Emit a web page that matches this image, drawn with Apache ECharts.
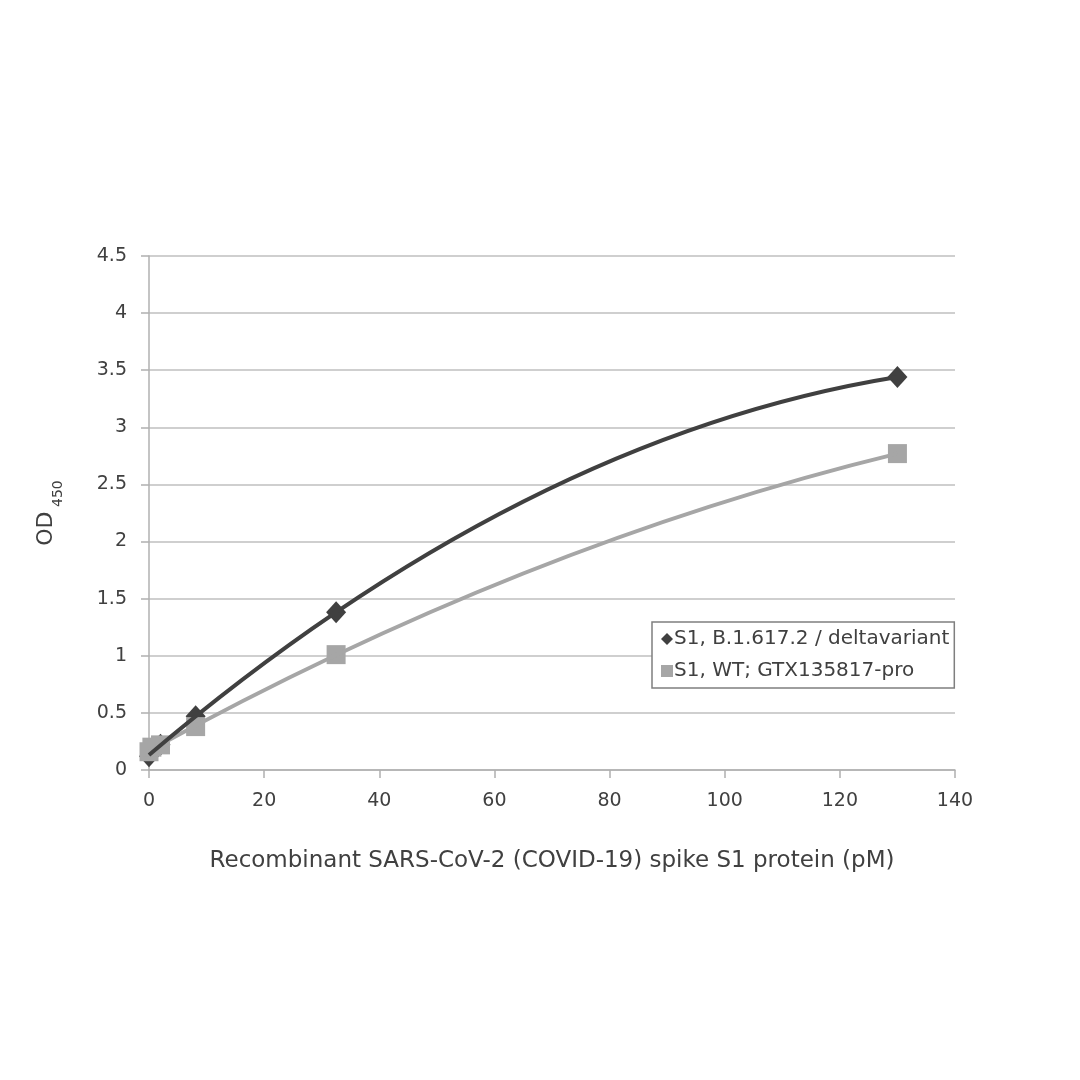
<!DOCTYPE html>
<html>
<head>
<meta charset="utf-8">
<script src="https://cdn.jsdelivr.net/npm/echarts@6/dist/echarts.min.js"></script>
<style>
  html, body { margin: 0; padding: 0; background: #fff; }
  #chart { width: 1080px; height: 1080px; }
</style>
</head>
<body>
<div id="chart"></div>
<script>
// 浓度 (pM)
const concentrations = [0, 0.5, 2, 8.1, 32.5, 130]
// OD450 读数
const deltaValues = [0.12, 0.16, 0.22, 0.47, 1.38, 3.44]
const wtValues = [0.16, 0.2, 0.22, 0.38, 1.01, 2.77]
const seriesNames = ['S1, B.1.617.2 / deltavariant', 'S1, WT; GTX135817-pro']
const xTicks = [0, 20, 40, 60, 80, 100, 120, 140]

const font = '"DejaVu Sans", "Open Sans", sans-serif'
const textColor = '#404040'
const darkColor = '#404040'
const grayColor = '#a6a6a6'

const toPoints = (ys) => concentrations.map((x, i) => [x, ys[i]])

// 二次多项式趋势线 (最小二乘)
const fitQuadratic = (xs, ys) => {
  const s = [0, 0, 0, 0, 0]
  const t = [0, 0, 0]
  xs.forEach((x, i) => {
    for (let k = 0; k < 5; k++) s[k] += Math.pow(x, k)
    for (let k = 0; k < 3; k++) t[k] += ys[i] * Math.pow(x, k)
  })
  const m = [
    [s[0], s[1], s[2], t[0]],
    [s[1], s[2], s[3], t[1]],
    [s[2], s[3], s[4], t[2]]
  ]
  for (let i = 0; i < 3; i++) {
    for (let j = i + 1; j < 3; j++) {
      const f = m[j][i] / m[i][i]
      for (let k = i; k < 4; k++) m[j][k] -= f * m[i][k]
    }
  }
  const c = [0, 0, 0]
  for (let i = 2; i >= 0; i--) {
    let v = m[i][3]
    for (let k = i + 1; k < 3; k++) v -= m[i][k] * c[k]
    c[i] = v / m[i][i]
  }
  return c
}

// 用二次贝塞尔精确绘制抛物线
const trendSeries = (ys, color, z) => {
  const c = fitQuadratic(concentrations, ys)
  const f = (x) => c[0] + c[1] * x + c[2] * x * x
  const df = (x) => c[1] + 2 * c[2] * x
  const x0 = Math.min(...concentrations)
  const x1 = Math.max(...concentrations)
  return {
    type: 'custom',
    silent: true,
    z,
    data: [[x0, f(x0)]],
    renderItem: (params, api) => {
      const p0 = api.coord([x0, f(x0)])
      const p2 = api.coord([x1, f(x1)])
      const cp = api.coord([(x0 + x1) / 2, f(x0) + df(x0) * (x1 - x0) / 2])
      return {
        type: 'bezierCurve',
        shape: { x1: p0[0], y1: p0[1], x2: p2[0], y2: p2[1], cpx1: cp[0], cpy1: cp[1] },
        style: { stroke: color, lineWidth: 4, fill: null }
      }
    }
  }
}

const chart = echarts.init(document.getElementById('chart'))

const option = {
  backgroundColor: '#fff',
  animation: false,
  textStyle: { fontFamily: font },
  grid: { left: 149, right: 125, top: 256, bottom: 310 },
  legend: {
    orient: 'vertical',
    left: 652,
    top: 622,
    padding: [7, 5, 7, 9],
    itemGap: 12,
    itemWidth: 12,
    itemHeight: 12,
    borderColor: '#7f7f7f',
    borderWidth: 1.5,
    backgroundColor: '#fff',
    textStyle: { color: textColor, fontSize: 20, fontFamily: font, padding: [0, 0, 0, -4] },
    data: [
      { name: seriesNames[0], icon: 'diamond' },
      { name: seriesNames[1], icon: 'rect' }
    ]
  },
  xAxis: {
    type: 'value',
    min: xTicks[0],
    max: xTicks[xTicks.length - 1],
    interval: 20,
    name: 'Recombinant SARS-CoV-2 (COVID-19) spike S1 protein (pM)',
    nameLocation: 'middle',
    nameGap: 80,
    nameTextStyle: { color: textColor, fontSize: 23, fontFamily: font },
    axisLine: { lineStyle: { color: '#b0b0b0', width: 1.5 } },
    axisTick: { show: true, length: 8, lineStyle: { color: '#b0b0b0', width: 1.5 } },
    axisLabel: { color: textColor, fontSize: 19, margin: 22 },
    splitLine: { show: false }
  },
  yAxis: {
    type: 'value',
    min: 0,
    max: 4.5,
    interval: 0.5,
    name: '{a|OD}{b| 450}',
    nameLocation: 'middle',
    nameRotate: 90,
    nameGap: 92,
    nameTextStyle: {
      color: textColor,
      fontFamily: font,
      rich: {
        a: { fontSize: 22, color: textColor, lineHeight: 28, verticalAlign: 'bottom', fontFamily: font },
        b: { fontSize: 14, color: textColor, lineHeight: 28, verticalAlign: 'bottom', padding: [0, 0, -8, 0], fontFamily: font }
      }
    },
    axisLine: { show: true, lineStyle: { color: '#b0b0b0', width: 1.5 } },
    axisTick: { show: true, length: 8, lineStyle: { color: '#b0b0b0', width: 1.5 } },
    axisLabel: { color: textColor, fontSize: 19, margin: 22 },
    splitLine: { lineStyle: { color: '#cfcfcf', width: 2 } }
  },
  series: [
    {
      name: seriesNames[0],
      type: 'scatter',
      data: toPoints(deltaValues),
      symbol: 'diamond',
      symbolSize: [20, 22],
      itemStyle: { color: darkColor, opacity: 1 },
      z: 2
    },
    {
      name: seriesNames[1],
      type: 'scatter',
      data: toPoints(wtValues),
      symbol: 'rect',
      symbolSize: 19,
      itemStyle: { color: grayColor, opacity: 1 },
      z: 2
    },
    trendSeries(wtValues, grayColor, 3),
    trendSeries(deltaValues, darkColor, 4)
  ]
}

chart.setOption(option)
</script>
</body>
</html>
